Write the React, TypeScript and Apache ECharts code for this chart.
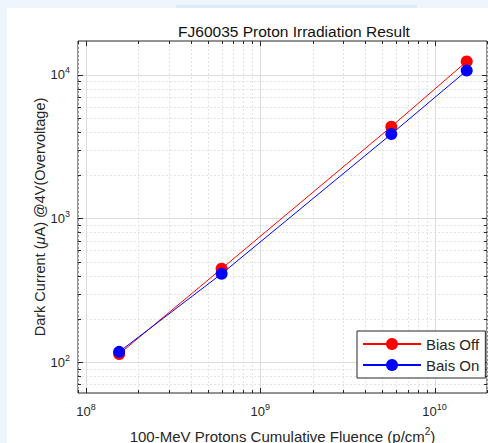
import React, { useEffect, useRef } from "react";
import * as echarts from "echarts";

const fluence = [1.55e8, 6.0e8, 5.65e9, 1.53e10];
const biasOff = [114, 447, 4360, 12400];
const biasOn = [118, 412, 3870, 10700];
const seriesNames = ["Bias Off", "Bais On"];
const titleText = "FJ60035 Proton Irradiation Result";
const xMin = 9.0e7;
const xMax = 2.0e10;
const yMin = 61;
const yMax = 17200;

const FONT = "Liberation Sans, Arial, Helvetica, sans-serif";
const DARK = "#262626";

function gridValues(lo: number, hi: number) {
  const out: number[][] = [];
  const e0 = Math.floor(Math.log10(lo));
  const e1 = Math.ceil(Math.log10(hi));
  for (let e = e0; e <= e1; e++) {
    for (let m = 1; m <= 9; m++) {
      const v = m * Math.pow(10, e);
      if (v >= lo && v <= hi) out.push([v, m === 1 ? 1 : 0]);
    }
  }
  return out;
}

function powLabel(v: number) {
  const e = Math.log10(v);
  const r = Math.round(e);
  if (Math.abs(e - r) < 1e-6) return "10{sup|" + r + "}";
  return "";
}

export default function App() {
  const ref = useRef<HTMLDivElement>(null);
  useEffect(() => {
    if (!ref.current) return;
    const chart = echarts.init(ref.current, undefined, { renderer: "svg", width: 488, height: 443 });
    const xg = gridValues(xMin, xMax).map((d) => [d[0], 100, d[1]]);
    const yg = gridValues(yMin, yMax).map((d) => [1e9, d[0], d[1]]);
    const richLabel = {
      sup: { fontSize: 9, fontFamily: FONT, color: DARK, padding: [0, 0, 9, 0] },
    };
    chart.setOption({
      animation: false,
      backgroundColor: "#eef6fc",
      graphic: [
        { type: "rect", z: -10, shape: { x: 7, y: 8, width: 481, height: 435 }, style: { fill: "#ffffff" } },
        { type: "rect", z: -10, shape: { x: 176, y: 5, width: 241, height: 3 }, style: { fill: "#d6ecf8" } },
      ],
      title: {
        text: titleText,
        left: 289,
        textAlign: "center",
        top: 18,
        textStyle: { fontFamily: FONT, fontSize: 15.5, fontWeight: "normal", color: "#111" },
      },
      grid: {
        left: 78,
        top: 41,
        width: 409,
        height: 352,
        containLabel: false,
        outerBoundsMode: "none",
        show: true,
        backgroundColor: "#ffffff",
        borderColor: DARK,
        borderWidth: 1,
      },
      legend: {
        data: seriesNames,
        orient: "vertical",
        left: 357,
        top: 331,
        itemWidth: 58,
        itemHeight: 15,
        itemGap: 5,
        padding: [5, 6, 5, 5],
        borderColor: DARK,
        borderWidth: 1,
        backgroundColor: "#ffffff",
        borderRadius: 0,
        textStyle: { fontFamily: FONT, fontSize: 15, color: DARK, lineHeight: 16 },
      },
      xAxis: {
        type: "log",
        logBase: 10,
        min: xMin,
        max: xMax,
        name: "100-MeV Protons Cumulative Fluence (p/cm{sup|2})",
        nameLocation: "middle",
        nameGap: 33,
        nameMoveOverlap: false,
        nameTextStyle: {
          fontFamily: FONT,
          fontSize: 15,
          color: DARK,
          rich: { sup: { fontSize: 10, fontFamily: FONT, color: DARK, padding: [0, 0, 10, 0] } },
        },
        axisLine: { show: false },
        axisTick: { show: false },
        splitLine: { show: false },
        axisLabel: {
          formatter: powLabel,
          fontFamily: FONT,
          fontSize: 13,
          color: DARK,
          margin: 9,
          showMinLabel: false,
          showMaxLabel: false,
          rich: richLabel,
        },
      },
      yAxis: {
        type: "log",
        logBase: 10,
        min: yMin,
        max: yMax,
        name: "Dark Current ({it|μ}A) @4V(Overvoltage)",
        nameLocation: "middle",
        nameGap: 31,
        nameMoveOverlap: false,
        nameTextStyle: {
          fontFamily: FONT,
          fontSize: 14.5,
          color: DARK,
          rich: { it: { fontStyle: "italic", fontFamily: FONT, fontSize: 14.5, color: DARK } },
        },
        axisLine: { show: false },
        axisTick: { show: false },
        splitLine: { show: false },
        axisLabel: {
          formatter: powLabel,
          fontFamily: FONT,
          fontSize: 13,
          color: DARK,
          margin: 8,
          showMinLabel: false,
          showMaxLabel: false,
          rich: richLabel,
        },
      },
      series: [
        {
          type: "custom",
          z: 1,
          silent: true,
          data: xg,
          renderItem: (params: any, api: any) => {
            const cs = params.coordSys;
            const major = api.value(2) === 1;
            const px = Math.round(api.coord([api.value(0), 100])[0]) + 0.5;
            const top = cs.y;
            const bottom = cs.y + cs.height;
            const tl = major ? 5 : 3;
            return {
              type: "group",
              children: [
                {
                  type: "line",
                  shape: { x1: px, y1: top, x2: px, y2: bottom },
                  style: { stroke: major ? "#dcdcdc" : "#e3e3e3", lineWidth: 1, lineDash: major ? null : [2, 2] },
                },
                { type: "line", shape: { x1: px, y1: bottom, x2: px, y2: bottom - tl }, style: { stroke: DARK, lineWidth: 1 } },
                { type: "line", shape: { x1: px, y1: top, x2: px, y2: top + tl }, style: { stroke: DARK, lineWidth: 1 } },
              ],
            };
          },
        },
        {
          type: "custom",
          z: 1,
          silent: true,
          data: yg,
          renderItem: (params: any, api: any) => {
            const cs = params.coordSys;
            const major = api.value(2) === 1;
            const py = Math.round(api.coord([1e9, api.value(1)])[1]) + 0.5;
            const left = cs.x;
            const right = cs.x + cs.width;
            const tl = major ? 5 : 3;
            return {
              type: "group",
              children: [
                {
                  type: "line",
                  shape: { x1: left, y1: py, x2: right, y2: py },
                  style: { stroke: major ? "#dcdcdc" : "#e3e3e3", lineWidth: 1, lineDash: major ? null : [2, 2] },
                },
                { type: "line", shape: { x1: left, y1: py, x2: left + tl, y2: py }, style: { stroke: DARK, lineWidth: 1 } },
                { type: "line", shape: { x1: right, y1: py, x2: right - tl, y2: py }, style: { stroke: DARK, lineWidth: 1 } },
              ],
            };
          },
        },
        {
          name: seriesNames[0],
          type: "line",
          z: 3,
          data: fluence.map((x, i) => [x, biasOff[i]]),
          symbol: "circle",
          symbolSize: 12,
          lineStyle: { color: "#ff0000", width: 1 },
          itemStyle: { color: "#ff0000" },
        },
        {
          name: seriesNames[1],
          type: "line",
          z: 4,
          data: fluence.map((x, i) => [x, biasOn[i]]),
          symbol: "circle",
          symbolSize: 12,
          lineStyle: { color: "#0000ff", width: 1 },
          itemStyle: { color: "#0000ff" },
        },
      ],
    });
    return () => chart.dispose();
  }, []);
  return <div ref={ref} style={{ position: "fixed", left: 0, top: 0, width: 488, height: 443 }} />;
}
